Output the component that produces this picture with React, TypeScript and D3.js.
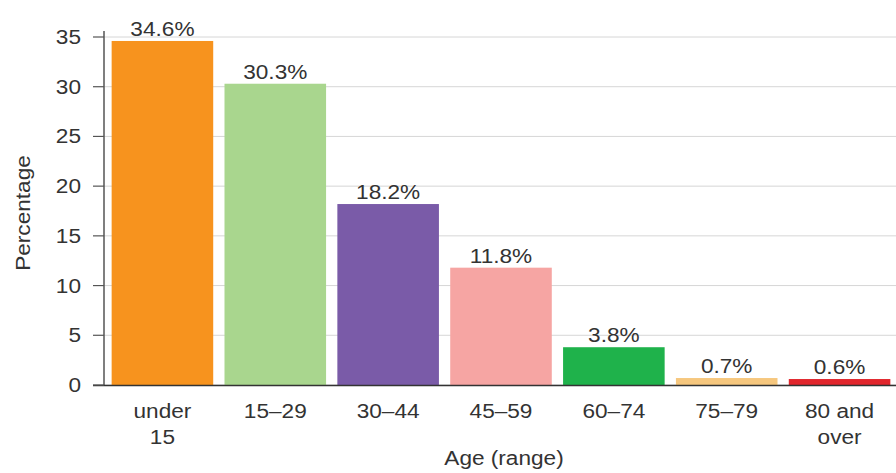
import React from "react";
import * as d3 from "d3";

const categories = ["under 15", "15–29", "30–44", "45–59", "60–74", "75–79", "80 and over"];
const categoryLines = [["under", "15"], ["15–29"], ["30–44"], ["45–59"], ["60–74"], ["75–79"], ["80 and", "over"]];
const values = [34.6, 30.3, 18.2, 11.8, 3.8, 0.7, 0.6];
const colors = ["#F7931E", "#A9D68E", "#7A5BA8", "#F6A5A3", "#1FB24B", "#F6C77E", "#E1262C"];
const yTicks = [0, 5, 10, 15, 20, 25, 30, 35];

const W = 896;
const H = 473;
const SX = 1.16;
const FS = 19.5;

function T({ x, y, anchor = "middle", rotate = 0, children }: any) {
  return (
    <text
      transform={`translate(${x},${y}) rotate(${rotate}) scale(${SX},1)`}
      textAnchor={anchor}
      fontSize={FS}
      fill="#333"
    >
      {children}
    </text>
  );
}

export default function App() {
  const x = d3.scaleBand<string>().domain(categories).range([106, 896]).paddingInner(0.1).paddingOuter(0.05);
  const y = d3.scaleLinear().domain([0, 35]).range([385, 37]);
  const font = "Helvetica, Arial, 'Liberation Sans', sans-serif";
  const cx = (c: string) => (x(c) as number) + x.bandwidth() / 2;
  return (
    <svg width={W} height={H} style={{ position: "absolute", left: 0, top: 0, background: "#fff" }} fontFamily={font}>
      {yTicks.map((t) => (
        <line key={"g" + t} x1={104} x2={W} y1={y(t)} y2={y(t)} stroke="#d6d6d6" strokeWidth={1} />
      ))}
      {categories.map((c, i) => (
        <rect key={c} x={x(c)} y={y(values[i])} width={x.bandwidth()} height={y(0) - y(values[i])} fill={colors[i]} />
      ))}
      {categories.map((c, i) => (
        <T key={"v" + c} x={cx(c)} y={y(values[i]) - 5}>
          {values[i].toFixed(1)}%
        </T>
      ))}
      <line x1={104} x2={104} y1={31} y2={385.5} stroke="#555" strokeWidth={1.5} />
      <line x1={93} x2={W} y1={385.5} y2={385.5} stroke="#333" strokeWidth={1.5} />
      {yTicks.map((t) => (
        <g key={"t" + t}>
          <line x1={93} x2={104} y1={y(t)} y2={y(t)} stroke="#555" strokeWidth={1.2} />
          <T x={81} y={y(t) + 7} anchor="end">{t}</T>
        </g>
      ))}
      {categories.map((c, i) =>
        categoryLines[i].map((l, j) => (
          <T key={"c" + c + j} x={cx(c)} y={418 + j * 26}>{l}</T>
        ))
      )}
      <T x={30} y={213} rotate={-90}>Percentage</T>
      <T x={504} y={465}>Age (range)</T>
    </svg>
  );
}
